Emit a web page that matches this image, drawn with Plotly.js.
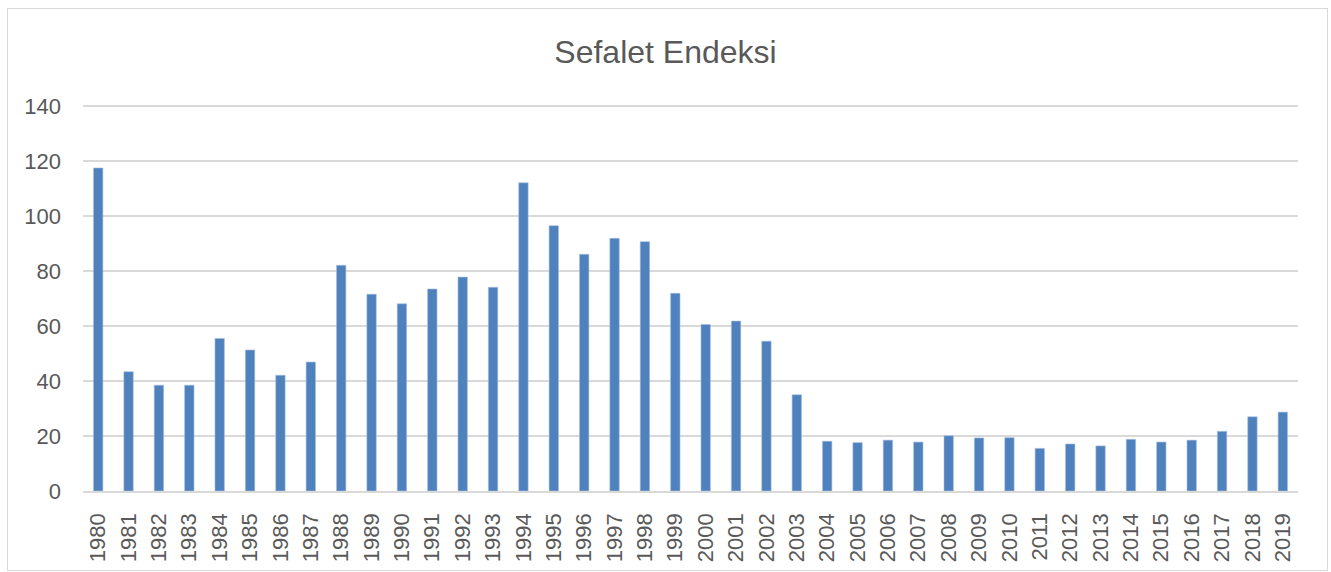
<!DOCTYPE html>
<html>
<head>
<meta charset="utf-8">
<script src="https://cdn.plot.ly/plotly-3.0.1.min.js"></script>
<style>
html,body{margin:0;padding:0;background:#fff;}
#wrap{position:relative;width:1331px;height:572px;}
#chart{width:1331px;height:572px;}
#frame{position:absolute;left:7px;top:8px;width:1319px;height:561px;border:1px solid #d9d9d9;pointer-events:none;}
</style>
</head>
<body>
<div id="wrap"><div id="chart"></div><div id="frame"></div></div>
<script>
const years = ["1980","1981","1982","1983","1984","1985","1986","1987","1988","1989",
  "1990","1991","1992","1993","1994","1995","1996","1997","1998","1999",
  "2000","2001","2002","2003","2004","2005","2006","2007","2008","2009",
  "2010","2011","2012","2013","2014","2015","2016","2017","2018","2019"];
const sefaletEndeksi = [117.5,43.4,38.5,38.5,55.5,51.3,42.1,46.9,82.1,71.6,
  68.1,73.5,77.8,74.1,112.1,96.5,86.1,91.9,90.7,71.9,
  60.6,61.8,54.5,35.0,18.1,17.6,18.5,17.8,20.1,19.3,
  19.4,15.5,17.1,16.4,18.8,17.8,18.5,21.7,27.0,28.7];
const yTicks = [0,20,40,60,80,100,120,140];
const chartTitle = "Sefalet Endeksi";

const trace = {
  type: "bar",
  x: years,
  y: sefaletEndeksi,
  marker: {color: "#4f81bd", line: {color: "#a9c0e0", width: 0.6}},
  hoverinfo: "x+y"
};

const layout = {
  width: 1331, height: 572,
  paper_bgcolor: "#ffffff", plot_bgcolor: "#ffffff",
  margin: {l: 83, r: 33, t: 105, b: 81},
  showlegend: false,
  bargap: 0.69,
  font: {family: "Liberation Sans, Arial, sans-serif", color: "#595959", size: 22},
  title: {
    text: chartTitle,
    font: {family: "Liberation Sans, Arial, sans-serif", size: 32, color: "#595959"},
    x: 0.5, xanchor: "center", xref: "container",
    y: 1 - 52/572, yanchor: "middle", yref: "container"
  },
  xaxis: {
    type: "category",
    tickangle: -90,
    tickfont: {size: 22, color: "#595959"},
    ticks: "",
    ticklabelstandoff: 12,
    showgrid: false,
    showline: true, linecolor: "#d9d9d9", linewidth: 1.5,
    zeroline: false,
    fixedrange: true
  },
  yaxis: {
    range: [0, 140.4],
    tickvals: yTicks,
    ticktext: yTicks.map(String),
    tickfont: {size: 22, color: "#595959"},
    ticks: "",
    ticklabelstandoff: 21,
    showgrid: true, gridcolor: "#d9d9d9", gridwidth: 1.5,
    zeroline: false,
    showline: false,
    fixedrange: true
  }
};

Plotly.newPlot("chart", [trace], layout, {displayModeBar: false, staticPlot: true});
</script>
</body>
</html>
